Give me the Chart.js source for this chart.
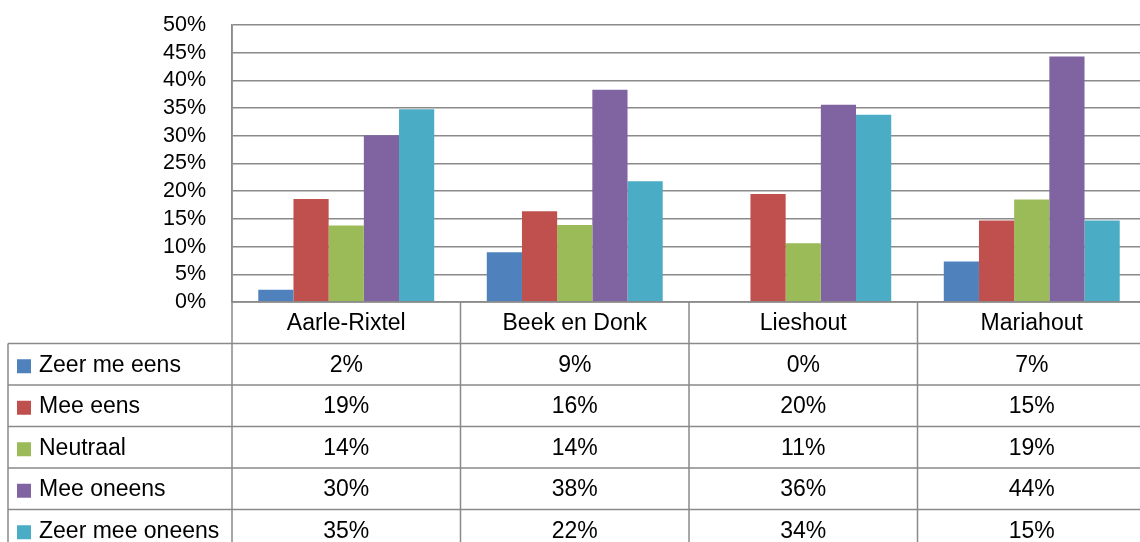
<!DOCTYPE html>
<html>
<head>
<meta charset="utf-8">
<script src="https://cdn.jsdelivr.net/npm/chart.js@4"></script>
<style>
    html, body { margin: 0; padding: 0; background: #fff; overflow: hidden; }
    canvas { display: block; }
</style>
</head>
<body>
<canvas id="chart" width="1150" height="560"></canvas>
<script>
// data
const categories = ["Aarle-Rixtel", "Beek en Donk", "Lieshout", "Mariahout"];
const seriesNames = ["Zeer me eens", "Mee eens", "Neutraal", "Mee oneens", "Zeer mee oneens"];

const zeerMeEens = [2.2, 9.0, 0, 7.3];
const meeEens = [18.6, 16.4, 19.5, 14.7];
const neutraal = [13.8, 13.9, 10.6, 18.5];
const meeOneens = [30.1, 38.3, 35.6, 44.3];
const zeerMeeOneens = [34.8, 21.8, 33.8, 14.7];

const yTicks = [0, 5, 10, 15, 20, 25, 30, 35, 40, 45, 50];

const colors = ["#4F81BD", "#C0504D", "#9BBB59", "#8064A2", "#4BACC6"];
const seriesValues = [zeerMeEens, meeEens, neutraal, meeOneens, zeerMeeOneens];

const lineColor = "#8a8a8a";
const fontFamily = "'Liberation Sans', Arial, sans-serif";

// tabel onder de grafiek
const tablePlugin = {
    id: "dataTable",
    afterDraw(chart) {
        const ctx = chart.ctx;
        const xs = chart.scales.x;
        const area = chart.chartArea;
        const n = categories.length;
        const colW = (xs.right - xs.left) / n;
        const rowH = 41.5;
        const headTop = area.bottom;
        const bodyTop = headTop + rowH;
        const tableLeft = 8;
        const tableBottom = bodyTop + rowH * seriesNames.length;
        const right = chart.width;

        ctx.save();
        ctx.strokeStyle = lineColor;
        ctx.lineWidth = 1.5;

        // horizontale lijnen
        ctx.beginPath();
        ctx.moveTo(area.left, headTop);
        ctx.lineTo(right, headTop);
        for (let r = 0; r <= seriesNames.length; r++) {
            const y = bodyTop + r * rowH;
            ctx.moveTo(tableLeft, y);
            ctx.lineTo(right, y);
        }
        // verticale lijnen
        ctx.moveTo(tableLeft, bodyTop);
        ctx.lineTo(tableLeft, tableBottom);
        for (let i = 0; i <= n; i++) {
            const x = xs.getPixelForValue(i) - colW / 2;
            ctx.moveTo(x, i === 0 ? area.top : headTop);
            ctx.lineTo(x, tableBottom);
        }
        ctx.stroke();

        ctx.fillStyle = "#000";
        ctx.font = "23px " + fontFamily;
        ctx.textBaseline = "middle";
        ctx.textAlign = "center";

        categories.forEach((cat, i) => {
            ctx.fillText(cat, xs.getPixelForValue(i), headTop + rowH / 2 + 1);
        });

        seriesNames.forEach((name, r) => {
            const cy = bodyTop + r * rowH + rowH / 2 + 1;
            ctx.fillStyle = colors[r];
            ctx.fillRect(17, cy - 6, 14, 14);
            ctx.fillStyle = "#000";
            ctx.textAlign = "left";
            ctx.fillText(name, 39, cy);
            ctx.textAlign = "center";
            seriesValues[r].forEach((v, i) => {
                ctx.fillText(Math.round(v) + "%", xs.getPixelForValue(i), cy);
            });
        });

        ctx.restore();
    }
};

new Chart(document.getElementById("chart"), {
    type: "bar",
    data: {
        labels: categories,
        datasets: seriesNames.map((name, i) => ({
            label: name,
            data: seriesValues[i],
            backgroundColor: colors[i],
            borderWidth: 0,
            categoryPercentage: 0.77,
            barPercentage: 1
        }))
    },
    options: {
        responsive: false,
        animation: false,
        layout: {
            padding: { top: 25, right: 4, bottom: 258, left: 0 }
        },
        plugins: {
            legend: { display: false },
            tooltip: { enabled: false }
        },
        scales: {
            x: {
                grid: { display: false },
                border: { display: false },
                ticks: { display: false },
                afterFit(scale) { scale.height = 0; }
            },
            y: {
                min: 0,
                max: 50,
                afterFit(scale) {
                    scale.width = 232;
                    scale.paddingTop = 0;
                    scale.paddingBottom = 0;
                },
                afterBuildTicks(scale) {
                    scale.ticks = yTicks.map(v => ({ value: v }));
                },
                grid: {
                    color: lineColor,
                    lineWidth: 1.5,
                    drawTicks: false
                },
                border: { display: true, color: lineColor, width: 1.5 },
                ticks: {
                    autoSkip: false,
                    padding: 26,
                    color: "#000",
                    font: { family: fontFamily, size: 21.5 },
                    callback: v => v + "%"
                }
            }
        }
    },
    plugins: [tablePlugin]
});
</script>
</body>
</html>
